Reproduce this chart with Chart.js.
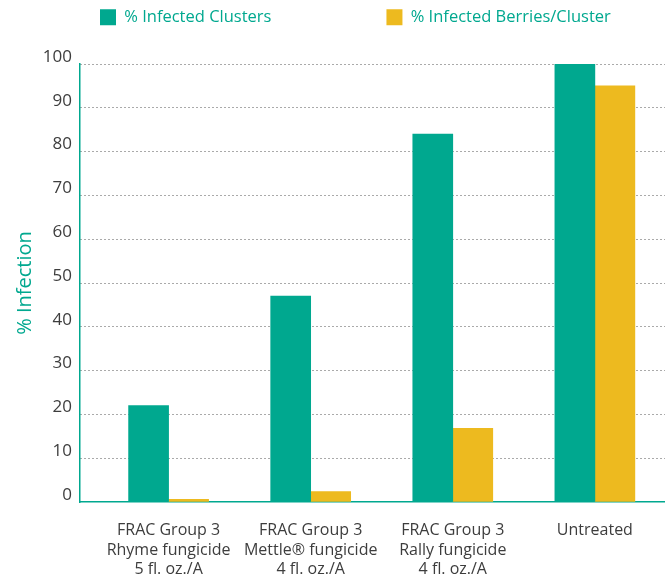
<!DOCTYPE html>
<html>
<head>
<meta charset="utf-8">
<script src="https://cdn.jsdelivr.net/npm/chart.js@4/dist/chart.umd.min.js"></script>
<style>
  html, body { margin: 0; padding: 0; background: #ffffff; }
  #wrap { width: 665px; height: 580px; }
</style>
</head>
<body>
<div id="wrap"><canvas id="c" width="665" height="580"></canvas></div>
<script>
// ---- data ----
const categories = [
  ["FRAC Group 3", "Rhyme fungicide", "5 fl. oz./A"],
  ["FRAC Group 3", "Mettle® fungicide", "4 fl. oz./A"],
  ["FRAC Group 3", "Rally fungicide", "4 fl. oz./A"],
  "Untreated"
];
const seriesNames = ["% Infected Clusters", "% Infected Berries/Cluster"];
const infectedClusters = [22, 47, 84, 100];
const infectedBerries = [0.6, 2.4, 16.8, 95];
const axisTitle = "% Infection";

// ---- style ----
const TEAL = "#00A88F";
const YELLOW = "#EDBA1F";
const TEXT_GREY = "#3d3d3d";
const FONT = "'Open Sans', 'Noto Sans', sans-serif";
const LEGEND_GAP = 115;

// keeps the legend on one row at a fixed place without taking layout space
const legendPlacer = {
  id: "legendPlacer",
  beforeLayout(chart) {
    const lg = chart.legend;
    if (lg && !lg.__wrapped) {
      const fit = lg.fit;
      lg.fit = function () {
        this.maxWidth = 4000;
        fit.call(this);
        this.width = chart.width;
        this.height = 0;
      };
      lg.__wrapped = true;
    }
  },
  afterLayout(chart) {
    const lg = chart.legend;
    if (!lg) return;
    lg.left = 100 - LEGEND_GAP;
    lg.top = 9 - LEGEND_GAP;
    lg.right = 4000;
    lg.bottom = 60;
    lg.width = lg.right - lg.left;
    lg.height = lg.bottom - lg.top;
  }
};

new Chart(document.getElementById("c"), {
  type: "bar",
  data: {
    labels: categories,
    datasets: [
      { label: seriesNames[0], data: infectedClusters, backgroundColor: TEAL, borderWidth: 0 },
      { label: seriesNames[1], data: infectedBerries, backgroundColor: YELLOW, borderWidth: 0 }
    ]
  },
  options: {
    responsive: false,
    devicePixelRatio: 1,
    animation: false,
    layout: { padding: { top: 64, right: 0, bottom: 0, left: 0 } },
    datasets: { bar: { barThickness: 40 } },
    plugins: {
      tooltip: { enabled: false },
      legend: {
        position: "top",
        align: "start",
        labels: {
          boxWidth: 16,
          boxHeight: 16,
          padding: LEGEND_GAP,
          color: TEAL,
          font: { family: FONT, size: 16.5 }
        }
      }
    },
    scales: {
      x: {
        grid: { display: false },
        border: { display: true, color: TEAL, width: 1.5 },
        ticks: {
          color: TEXT_GREY,
          padding: 11,
          maxRotation: 0,
          autoSkip: false,
          font: { family: FONT, size: 16, lineHeight: 1.22 }
        },
        afterBuildTicks(scale) {
          scale._startValue = -0.6235;
          scale._valueRange = 4.117;
        },
        afterFit(scale) { scale.height = 78; }
      },
      y: {
        min: 0,
        max: 100,
        ticks: {
          stepSize: 10,
          color: TEXT_GREY,
          padding: 8,
          labelOffset: -7,
          font: { family: FONT, size: 17 }
        },
        grid: {
          drawTicks: false,
          lineWidth: 1,
          color: (ctx) => (ctx.tick && ctx.tick.value === 0) ? "rgba(0,0,0,0)" : "#555555"
        },
        border: {
          display: true,
          color: TEAL,
          width: 1.5,
          dash: (ctx) => ctx.type === "tick" ? [1, 3] : []
        },
        title: {
          display: true,
          text: axisTitle,
          color: TEAL,
          padding: { top: 13, bottom: 0 },
          font: { family: FONT, size: 20 }
        },
        afterFit(scale) { scale.width = 80; }
      }
    }
  },
  plugins: [legendPlacer]
});
</script>
</body>
</html>
